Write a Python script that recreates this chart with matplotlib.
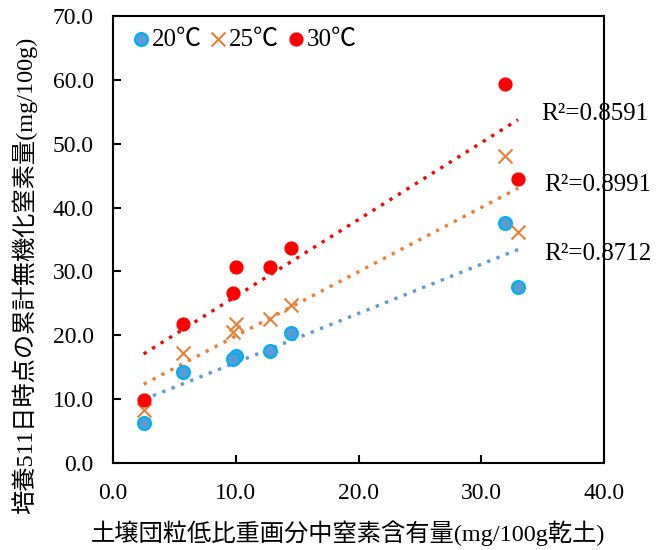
import matplotlib
matplotlib.use('Agg')
import matplotlib.pyplot as plt
import numpy as np

plt.rcParams['font.family'] = ['Liberation Serif', 'Noto Sans CJK JP', 'DejaVu Sans']

# soil aggregate light fraction N content (mg/100g dry soil)
x = [2.5, 5.7, 10.0, 9.8, 12.8, 14.5, 31.9, 33.0]

# cumulative mineralized N at day 511 (mg/100g)
y20 = [6.2, 14.3, 16.8, 16.3, 17.6, 20.4, 37.6, 27.6]
y25 = [8.3, 17.3, 21.8, 20.6, 22.6, 24.8, 48.0, 36.2]
y30 = [9.9, 21.8, 30.7, 26.7, 30.7, 33.6, 59.4, 44.4]

labels = ['20℃', '25℃', '30℃']
r2_text = ['R²=0.8712', 'R²=0.8991', 'R²=0.8591']
r2_pos = [(35.1, 32.8), (35.1, 43.6), (34.9, 54.6)]

fig = plt.figure(figsize=(6.7, 5.5), dpi=100)
ax = fig.add_axes([0.1687, 0.158, 0.7328, 0.813])

xa = np.array(x)
xs = np.array([xa.min(), xa.max()])

# trend lines (dotted)
for yy, c in [(y20, '#5B9BD5'), (y25, '#ED7D31'), (y30, '#FF0000')]:
    k, b = np.polyfit(xa, yy, 1)
    ax.plot(xs, k * xs + b, color=c, linestyle=(0, (1, 2)), linewidth=2.4, zorder=2)

ax.scatter(x, y20, s=85, color='#5B9BD5', edgecolors='#00B0F0', linewidths=1.6,
           label=labels[0], zorder=3)
ax.scatter(x, y25, s=100, marker='x', color='#ED7D31', linewidths=1.5,
           label=labels[1], zorder=3)
ax.scatter(x, y30, s=85, color='#FF0000', edgecolors='#FF0000', linewidths=1.0,
           label=labels[2], zorder=3)

for t, (tx, ty) in zip(r2_text, r2_pos):
    ax.text(tx, ty, t, fontsize=18, va='center', ha='left', clip_on=False)

ax.set_xlim(0, 40)
ax.set_ylim(0, 70)
ax.set_xticks(np.arange(0, 41, 10))
ax.set_yticks(np.arange(0, 71, 10))
ax.set_xticklabels(['%.1f' % v for v in np.arange(0, 41, 10)])
ax.set_yticklabels(['%.1f' % v for v in np.arange(0, 71, 10)])
ax.tick_params(direction='in', length=6, width=1.5, labelsize=17, pad=14,
               top=False, right=False)
for sp in ax.spines.values():
    sp.set_linewidth(1.5)

ax.set_xlabel('土壌団粒低比重画分中窒素含有量(mg/100g乾土)', fontsize=17.5)
ax.set_ylabel('培養511日時点の累計無機化窒素量(mg/100g)', fontsize=17.5)
ax.xaxis.set_label_coords(0.478, -0.128)
ax.yaxis.set_label_coords(-0.155, 0.42)

ax.legend(loc='upper left', ncol=3, frameon=False, fontsize=18, handletextpad=-0.15,
          columnspacing=0.05, borderaxespad=0.1, handlelength=1.2)

fig.savefig('out.png', dpi=100)
